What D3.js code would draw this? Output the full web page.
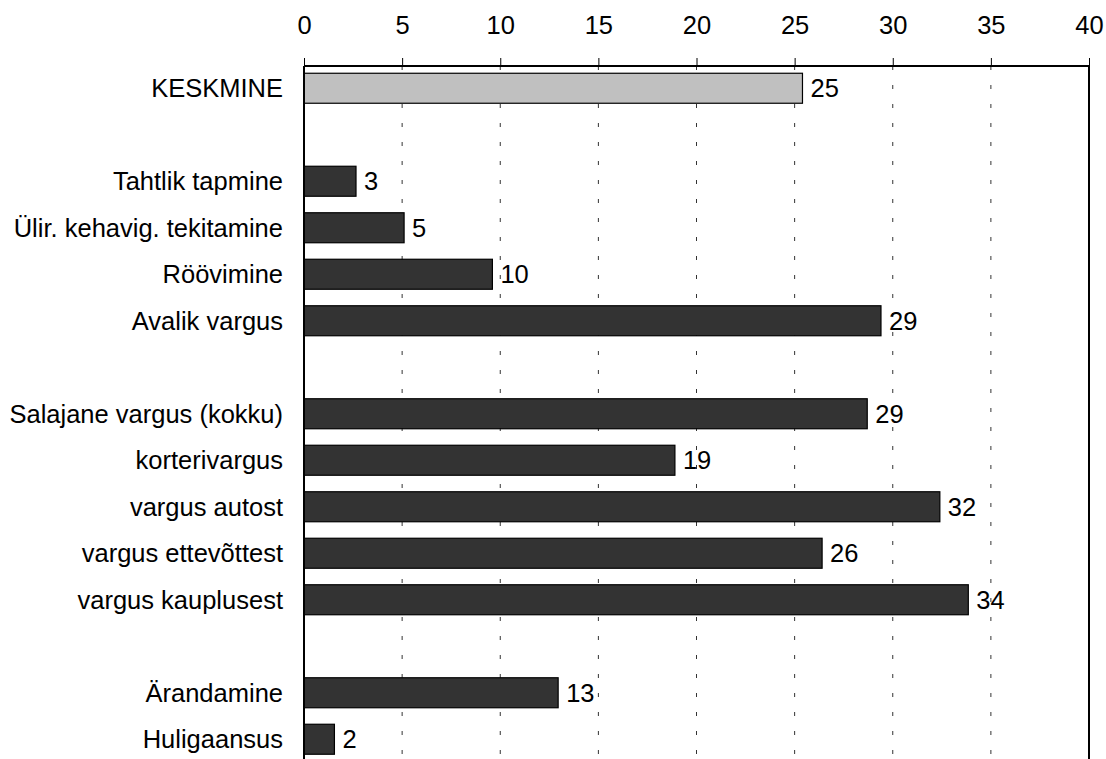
<!DOCTYPE html>
<html>
<head>
<meta charset="utf-8">
<script src="https://cdn.jsdelivr.net/npm/d3@7"></script>
<style>
  body { margin: 0; background: #fff; }
  text { font-family: Arial, "Liberation Sans", sans-serif; }
</style>
</head>
<body>
<script>
const width = 1106;
const height = 759;

// empty strings are spacer rows between groups
const categories = [
    "KESKMINE", "", "Tahtlik tapmine", "Ülir. kehavig. tekitamine", "Röövimine", "Avalik vargus",
    " ", "Salajane vargus (kokku)", "korterivargus", "vargus autost", "vargus ettevõttest", "vargus kauplusest",
    "  ", "Ärandamine", "Huligaansus"
];
const values = [25.4, null, 2.65, 5.1, 9.6, 29.4, null, 28.7, 18.9, 32.4, 26.4, 33.85, null, 12.95, 1.55];
const highlight = ["KESKMINE"];
const xTicks = [0, 5, 10, 15, 20, 25, 30, 35, 40];

const margin = {top: 66, left: 304, right: 17};
const plotBottom = 66 + 15 * 46.5;
const fontSize = 25.5;

const svg = d3.select('body')
    .append('svg')
    .attr('width', width)
    .attr('height', height);

let x = d3.scaleLinear()
    .domain([0, 40])
    .range([margin.left, width - margin.right]);

let y = d3.scaleBand()
    .domain(categories)
    .range([margin.top - 1, plotBottom - 1])
    .paddingInner(0.355)
    .paddingOuter(0.1775);

let data = categories.map((c, i) => ({name: c, value: values[i]}))
    .filter(d => d.value !== null);

//Grid
svg.append('g')
    .selectAll('line')
    .data(xTicks.slice(1, -1))
    .enter()
    .append('line')
    .attr('x1', d => x(d))
    .attr('x2', d => x(d))
    .attr('y1', margin.top)
    .attr('y2', plotBottom)
    .attr('stroke', '#333')
    .attr('stroke-width', 1)
    .attr('stroke-dasharray', '4,15');

//Axis on top
let xAxis = d3.axisTop(x)
    .tickValues(xTicks)
    .tickSize(8)
    .tickPadding(24)
    .tickFormat(d3.format('d'));

let ax = svg.append('g')
    .attr('transform', 'translate(0,' + margin.top + ')')
    .call(xAxis);
ax.attr('font-size', fontSize).attr('font-family', null);
ax.select('.domain').remove();
ax.selectAll('line').attr('stroke', '#000');
ax.selectAll('text')
    .attr('fill', '#000');

//Bars
svg.append('g')
    .selectAll('rect')
    .data(data)
    .enter()
    .append('rect')
    .attr('x', x(0))
    .attr('y', d => y(d.name))
    .attr('width', d => x(d.value) - x(0))
    .attr('height', y.bandwidth())
    .attr('fill', d => highlight.includes(d.name) ? '#c0c0c0' : '#333333')
    .attr('stroke', '#000')
    .attr('stroke-width', 1.2);

//Value labels
svg.append('g')
    .selectAll('text')
    .data(data)
    .enter()
    .append('text')
    .attr('x', d => x(d.value) + 8)
    .attr('y', d => y(d.name) + y.bandwidth() / 2)
    .attr('dy', '0.35em')
    .attr('font-size', fontSize)
    .text(d => Math.round(d.value));

//Category labels
svg.append('g')
    .selectAll('text')
    .data(data)
    .enter()
    .append('text')
    .attr('x', margin.left - 21)
    .attr('y', d => y(d.name) + y.bandwidth() / 2)
    .attr('dy', '0.35em')
    .attr('text-anchor', 'end')
    .attr('font-size', fontSize)
    .text(d => d.name);

//Frame: top, left, right
let frame = svg.append('g')
    .attr('stroke', '#000')
    .attr('stroke-width', 2);
frame.append('line')
    .attr('x1', x(0)).attr('x2', x(40))
    .attr('y1', margin.top).attr('y2', margin.top);
frame.append('line')
    .attr('x1', x(0)).attr('x2', x(0))
    .attr('y1', margin.top).attr('y2', plotBottom);
frame.append('line')
    .attr('x1', x(40)).attr('x2', x(40))
    .attr('y1', margin.top).attr('y2', plotBottom);
</script>
</body>
</html>
